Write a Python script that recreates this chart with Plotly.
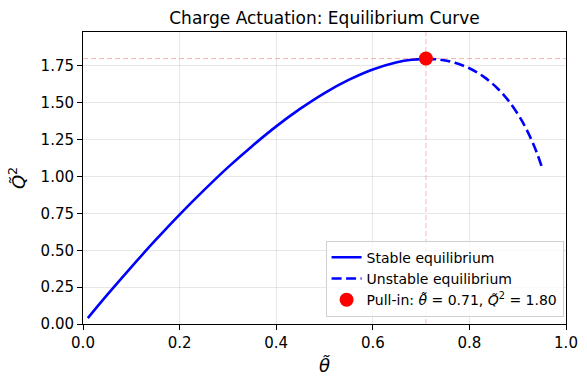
import plotly.graph_objects as go

# Data
theta_stable = [0.01, 0.05, 0.10, 0.15, 0.20, 0.25, 0.30, 0.35, 0.40, 0.45,
                0.50, 0.55, 0.60, 0.65, 0.68, 0.71]
q2_stable = [0.040, 0.197, 0.386, 0.568, 0.742, 0.906, 1.062, 1.206, 1.340, 1.460,
             1.566, 1.655, 1.726, 1.775, 1.792, 1.798]
theta_unstable = [0.71, 0.74, 0.77, 0.80, 0.83, 0.86, 0.88, 0.90, 0.91, 0.92,
                  0.93, 0.94, 0.95]
q2_unstable = [1.798, 1.792, 1.771, 1.734, 1.676, 1.592, 1.518, 1.425, 1.370, 1.308,
               1.238, 1.158, 1.065]
pullin_theta = [0.71]
pullin_q2 = [1.80]

FONT = "DejaVu Sans"

fig = go.Figure()

# reference lines
fig.add_hline(y=pullin_q2[0], line=dict(color="rgba(255,0,0,0.3)", width=1, dash="5px,3px"))
fig.add_vline(x=pullin_theta[0], line=dict(color="rgba(255,0,0,0.3)", width=1, dash="5px,3px"))

fig.add_trace(go.Scatter(
    x=theta_stable, y=q2_stable, mode="lines", line_shape="spline",
    line=dict(color="blue", width=2.6), name="Stable equilibrium"))
fig.add_trace(go.Scatter(
    x=theta_unstable, y=q2_unstable, mode="lines", line_shape="spline",
    line=dict(color="blue", width=2.6, dash="10px,4.5px"), name="Unstable equilibrium"))
fig.add_trace(go.Scatter(
    x=pullin_theta, y=pullin_q2, mode="markers",
    marker=dict(color="red", size=14),
    name="Pull-in: <i>θ̃</i> = 0.71, <i>Q̃</i><sup>2</sup> = 1.80"))

axis_common = dict(
    showline=True, linecolor="black", linewidth=1, mirror=True,
    ticks="outside", tickcolor="black", ticklen=5, tickwidth=1,
    showgrid=True, gridcolor="rgba(176,176,176,0.3)", gridwidth=1,
    zeroline=False, tickfont=dict(family=FONT, size=15, color="black"),
    automargin=False,
)

fig.update_xaxes(range=[0, 1], tickvals=[0, 0.2, 0.4, 0.6, 0.8, 1.0],
                 ticktext=["0.0", "0.2", "0.4", "0.6", "0.8", "1.0"],
                 title=dict(text="<i>θ̃</i>", font=dict(family=FONT, size=18, color="black"), standoff=8),
                 **axis_common)
fig.update_yaxes(range=[0, 1.98], tickvals=[0, 0.25, 0.5, 0.75, 1.0, 1.25, 1.5, 1.75],
                 ticktext=["0.00", "0.25", "0.50", "0.75", "1.00", "1.25", "1.50", "1.75"],
                 title=dict(text="<i>Q̃</i><sup>2</sup>", font=dict(family=FONT, size=18, color="black"), standoff=10),
                 **axis_common)

fig.update_layout(
    width=587, height=387,
    margin=dict(l=83, r=21, t=32, b=63),
    paper_bgcolor="white", plot_bgcolor="white",
    font=dict(family=FONT, color="black"),
    title=dict(text="Charge Actuation: Equilibrium Curve", x=0.5, xref="paper",
               xanchor="center", y=1 - 18 / 387, yanchor="middle",
               font=dict(family=FONT, size=17, color="black")),
    legend=dict(x=0.995, y=0.025, xanchor="right", yanchor="bottom",
                bgcolor="rgba(255,255,255,0.8)", bordercolor="#d0d0d0", borderwidth=1,
                font=dict(family=FONT, size=14, color="black"),
                tracegroupgap=0, itemwidth=30),
    showlegend=True,
)

fig.write_html("out.html", config={"displayModeBar": False},
               post_script="document.body.style.margin='0px';document.body.style.padding='0px';")
